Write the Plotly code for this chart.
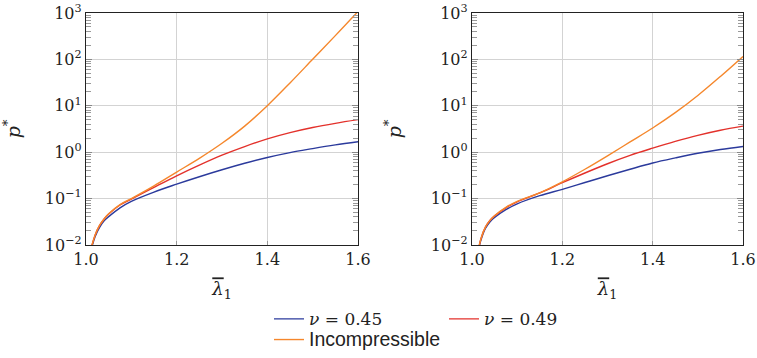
import plotly.graph_objects as go

# ---- data ----
lam = [1.012, 1.02, 1.03, 1.04, 1.05, 1.075, 1.1, 1.15, 1.2, 1.25, 1.3, 1.35, 1.4, 1.45, 1.5, 1.55, 1.6]

left_nu045 = [0.0083, 0.0151, 0.0240, 0.0331, 0.0407, 0.0631, 0.0871, 0.138, 0.204, 0.295, 0.417, 0.575, 0.767, 0.977, 1.189, 1.429, 1.679]
left_nu049 = [0.0089, 0.0162, 0.0263, 0.0363, 0.0462, 0.0724, 0.0966, 0.174, 0.309, 0.525, 0.861, 1.318, 1.928, 2.630, 3.39, 4.17, 5.012]
left_incomp = [0.0089, 0.0162, 0.0263, 0.0363, 0.0468, 0.0741, 0.100, 0.188, 0.372, 0.733, 1.549, 3.631, 10.0, 30.9, 100, 323.6, 1072]

right_nu045 = [0.0063, 0.0129, 0.0229, 0.0316, 0.0389, 0.0575, 0.0767, 0.115, 0.158, 0.221, 0.309, 0.427, 0.582, 0.750, 0.944, 1.135, 1.318]
right_nu049 = [0.0063, 0.0138, 0.0245, 0.0339, 0.0422, 0.0631, 0.0851, 0.132, 0.219, 0.355, 0.562, 0.851, 1.216, 1.698, 2.291, 2.951, 3.631]
right_incomp = [0.0063, 0.0138, 0.0245, 0.0339, 0.0427, 0.0646, 0.0871, 0.133, 0.229, 0.427, 0.832, 1.660, 3.311, 7.08, 16.6, 42.7, 115]

series_names = ["<i>ν</i> = 0.45", "<i>ν</i> = 0.49",
                "<span style='font-family:Liberation Sans, Arial, sans-serif;font-size:19.5px'>Incompressible</span>"]
series_colors = ["#2b3a9c", "#e3312b", "#f5872c"]
series_legend = ["legend", "legend", "legend2"]

x_tickvals = [1.0, 1.2, 1.4, 1.6]
x_ticktext = ["1.0", "1.2", "1.4", "1.6"]
y_tickvals = [0.01, 0.1, 1, 10, 100, 1000]
y_ticktext = ["10<sup>−2</sup>", "10<sup>−1</sup>", "10<sup>0</sup>",
              "10<sup>1</sup>", "10<sup>2</sup>", "10<sup>3</sup>"]

W, H = 757, 358
SERIF = "DejaVu Serif"
TXT = "#222"

fig = go.Figure()
panels = [("x", "y", [left_nu045, left_nu049, left_incomp]),
          ("x2", "y2", [right_nu045, right_nu049, right_incomp])]
for pi, (xa, ya, ys) in enumerate(panels):
    for si, vals in enumerate(ys):
        fig.add_trace(go.Scatter(
            x=lam, y=vals, xaxis=xa, yaxis=ya, mode="lines",
            line=dict(color=series_colors[si], width=1.4, shape="spline", smoothing=1.0),
            name=series_names[si], showlegend=(pi == 0), legend=series_legend[si],
        ))

def xaxis(dom, anchor):
    return dict(domain=dom, anchor=anchor, range=[1.0, 1.6], tickvals=x_tickvals, ticktext=x_ticktext,
                showgrid=True, gridcolor="#d3d3d3", gridwidth=1, zeroline=False,
                showline=True, linecolor="#222", linewidth=1.3, mirror=True,
                ticks="inside", ticklen=4, tickcolor="#999",
                tickfont=dict(family=SERIF, size=16, color=TXT), ticklabeloverflow="allow",
                title=dict(text="<span style='text-decoration:overline'><i>λ</i></span><sub>1</sub>",
                           font=dict(family=SERIF, size=18, color=TXT), standoff=14),
                automargin=False, fixedrange=True)

def yaxis(anchor):
    return dict(domain=[1 - 247 / H, 1 - 13 / H], anchor=anchor, type="log", range=[-2, 3],
                tickvals=y_tickvals, ticktext=y_ticktext,
                showgrid=True, gridcolor="#d3d3d3", gridwidth=1, zeroline=False,
                showline=True, linecolor="#222", linewidth=1.3, mirror="ticks",
                ticks="inside", ticklen=6, tickcolor="#888",
                minor=dict(ticks="inside", ticklen=5, tickcolor="#999", dtick="D1", showgrid=False),
                tickfont=dict(family=SERIF, size=16, color=TXT), ticklabeloverflow="allow",
                title=dict(text="<i>p</i><sup>*</sup>", font=dict(family=SERIF, size=19, color=TXT), standoff=24),
                automargin=False, fixedrange=True)

legend_common = dict(orientation="h", xanchor="left", yanchor="middle",
                     entrywidth=130, entrywidthmode="pixels",
                     font=dict(family=SERIF, size=17, color=TXT), bgcolor="rgba(0,0,0,0)",
                     itemwidth=30, tracegroupgap=0)

fig.update_layout(
    width=W, height=H, margin=dict(l=0, r=0, t=0, b=0),
    paper_bgcolor="white", plot_bgcolor="white",
    font=dict(family=SERIF),
    xaxis=xaxis([86 / W, 358 / W], "y"),
    yaxis=yaxis("x"),
    xaxis2=xaxis([472 / W, 743 / W], "y2"),
    yaxis2=yaxis("x2"),
    legend=dict(legend_common, x=269 / W, y=1 - 322 / H),
    legend2=dict(legend_common, x=269 / W, y=1 - 343 / H),
    showlegend=True,
)

fig.write_html("out.html")
